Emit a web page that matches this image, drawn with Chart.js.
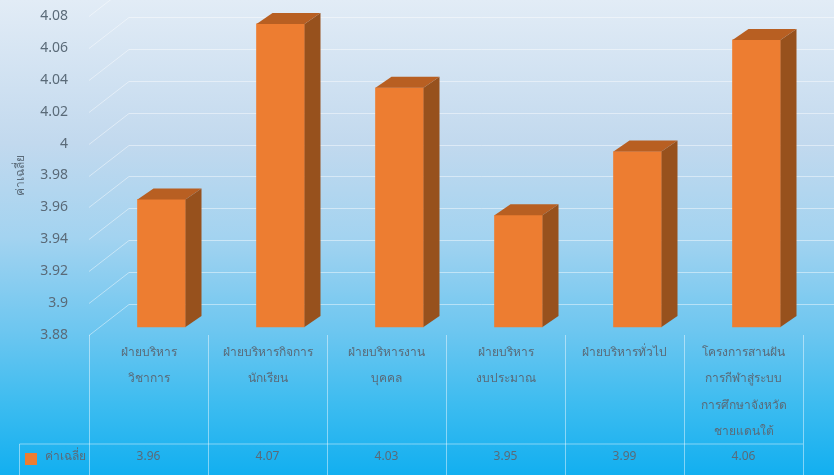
<!DOCTYPE html>
<html>
<head>
<meta charset="utf-8">
<script src="https://cdn.jsdelivr.net/npm/chart.js@4"></script>
<style>
  html, body { margin: 0; padding: 0; overflow: hidden; }
  body {
    width: 834px; height: 475px;
    background: linear-gradient(to bottom, #e2ecf6 0%, #c2d9ee 30%, #a3d3f0 50%, #6cc6f0 70%, #3dbcf0 85%, #12aff0 100%);
  }
  #wrap { width: 834px; height: 475px; filter: blur(0.5px); }
</style>
</head>
<body>
<div id="wrap"><canvas id="chart" width="834" height="475"></canvas></div>
<script>
  const categories = [
    ["ฝ่ายบริหาร", "วิชาการ"],
    ["ฝ่ายบริหารกิจการ", "นักเรียน"],
    ["ฝ่ายบริหารงาน", "บุคคล"],
    ["ฝ่ายบริหาร", "งบประมาณ"],
    ["ฝ่ายบริหารทั่วไป"],
    ["โครงการสานฝัน", "การกีฬาสู่ระบบ", "การศึกษาจังหวัด", "ชายแดนใต้"]
  ];
  const values = [3.96, 4.07, 4.03, 3.95, 3.99, 4.06];
  const seriesName = "ค่าเฉลี่ย";
  const yMin = 3.88;
  const yMax = 4.08;
  const yStep = 0.02;

  const font = "'Noto Sans', 'Liberation Sans', sans-serif";
  const textColor = "#5a6a78";
  const lineColor = "rgba(255,255,255,0.45)";
  const barColor = "#ed7d31";

  // Pseudo 3D: the back wall sits up and to the right of the axis plane
  const wall = { dx: 40, dy: 31 };
  const barShift = { x: 13, y: -8 };
  const barDepth = { dx: 16, dy: 11 };
  const tableLineY = 444;
  const tableLeft = 19;

  function line(ctx, x1, y1, x2, y2) {
    ctx.beginPath();
    ctx.moveTo(x1, y1);
    ctx.lineTo(x2, y2);
    ctx.stroke();
  }

  function poly(ctx, pts, color) {
    ctx.fillStyle = color;
    ctx.beginPath();
    pts.forEach((p, i) => i ? ctx.lineTo(p[0], p[1]) : ctx.moveTo(p[0], p[1]));
    ctx.closePath();
    ctx.fill();
  }

  const fake3d = {
    id: "fake3d",
    beforeDatasetsDraw(chart) {
      const { ctx, chartArea, scales } = chart;
      ctx.save();
      ctx.strokeStyle = lineColor;
      ctx.lineWidth = 1;
      // grid lines, side wall then back wall
      scales.y.ticks.forEach((t) => {
        const y = Math.round(scales.y.getPixelForValue(t.value)) + 0.5;
        line(ctx, chartArea.left, y, chartArea.left + wall.dx, y - wall.dy);
        line(ctx, chartArea.left + wall.dx, y - wall.dy, chart.width, y - wall.dy);
      });
      ctx.restore();
      // bars sit a little inside the floor
      ctx.save();
      ctx.translate(barShift.x, barShift.y);
    },
    afterDatasetsDraw(chart) {
      const { ctx } = chart;
      chart.getDatasetMeta(0).data.forEach((bar) => {
        const l = bar.x - bar.width / 2;
        const r = bar.x + bar.width / 2;
        poly(ctx, [[l, bar.y], [l + barDepth.dx, bar.y - barDepth.dy], [r + barDepth.dx, bar.y - barDepth.dy], [r, bar.y]], "#b85f22");
        poly(ctx, [[r, bar.y], [r + barDepth.dx, bar.y - barDepth.dy], [r + barDepth.dx, bar.base - barDepth.dy], [r, bar.base]], "#97511d");
      });
      ctx.restore();
    },
    afterDraw(chart) {
      const { ctx, chartArea, scales } = chart;
      const h = chart.height;
      const half = (scales.x.getPixelForValue(1) - scales.x.getPixelForValue(0)) / 2;
      ctx.save();
      ctx.strokeStyle = lineColor;
      ctx.lineWidth = 1;
      // data table under the axis
      for (let i = 0; i <= values.length; i++) {
        const x = Math.round(scales.x.getPixelForValue(i ? i - 1 : 0) + (i ? half : -half)) + 0.5;
        line(ctx, x, chartArea.bottom, x, h);
      }
      line(ctx, tableLeft + 0.5, tableLineY, chartArea.right, tableLineY);
      line(ctx, tableLeft + 0.5, tableLineY, tableLeft + 0.5, h);

      ctx.fillStyle = textColor;
      ctx.font = "12px " + font;
      ctx.textAlign = "center";
      ctx.textBaseline = "middle";
      values.forEach((v, i) => ctx.fillText(v.toFixed(2), scales.x.getPixelForValue(i), 457));
      ctx.textAlign = "left";
      ctx.fillText(seriesName, 45, 457);
      ctx.fillStyle = barColor;
      ctx.fillRect(25, 453, 12, 12);
      ctx.restore();
    }
  };

  new Chart(document.getElementById("chart"), {
    type: "bar",
    plugins: [fake3d],
    data: {
      labels: categories,
      datasets: [{
        label: seriesName,
        data: values,
        base: yMin,
        backgroundColor: barColor,
        barThickness: 48,
        clip: false
      }]
    },
    options: {
      responsive: false,
      animation: false,
      devicePixelRatio: 1,
      layout: { padding: { left: 0, right: 31, top: 16, bottom: 0 } },
      plugins: { legend: { display: false }, tooltip: { enabled: false } },
      scales: {
        x: {
          afterFit(scale) { scale.height = 140; },
          grid: { display: false },
          border: { display: false },
          ticks: {
            autoSkip: false,
            maxRotation: 0,
            padding: -3,
            color: textColor,
            font: { family: font, size: 12, lineHeight: 2.17 }
          }
        },
        y: {
          min: yMin,
          max: yMax,
          // keep the plot box exact, labels may hang over its ends
          afterFit(scale) { scale.width = 89; scale.paddingTop = 0; scale.paddingBottom = 0; },
          grid: { display: false },
          border: { display: false },
          title: {
            display: true,
            text: seriesName,
            color: textColor,
            font: { family: font, size: 12 },
            padding: { top: 13, bottom: 0 }
          },
          ticks: {
            stepSize: yStep,
            padding: 13,
            color: textColor,
            font: { family: font, size: 14 },
            callback: (v) => String(+v.toFixed(2))
          }
        }
      }
    }
  });
</script>
</body>
</html>
